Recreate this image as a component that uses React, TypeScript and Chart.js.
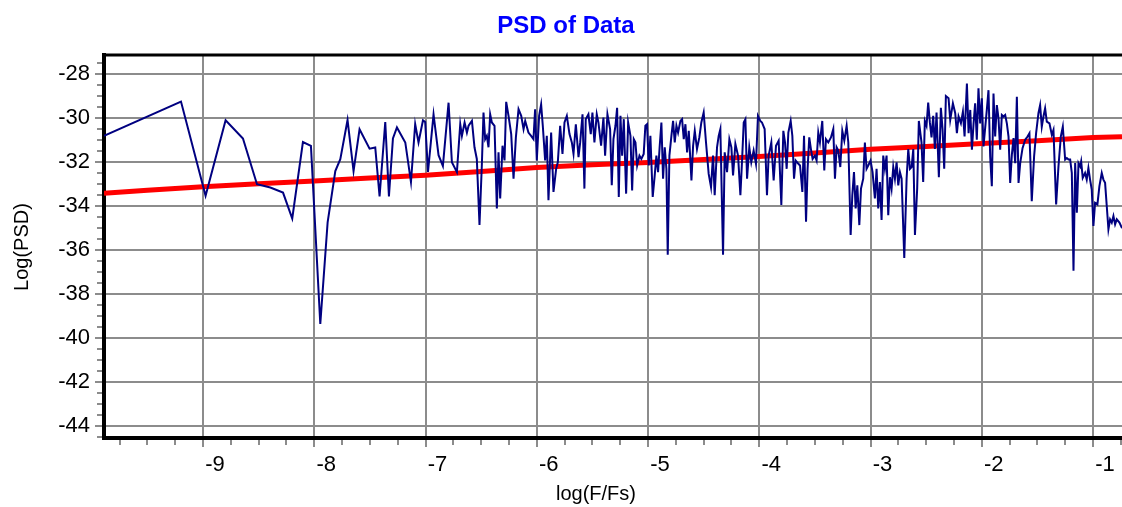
import React, { useEffect, useRef } from "react";
import { Chart, registerables } from "chart.js";

Chart.register(...registerables);

const FONT = '"Liberation Sans", Arial, Helvetica, sans-serif';
const GRID = "#8c8c8c";

const titleText = "PSD of Data";
const xAxisTitle = "log(F/Fs)";
const yAxisTitle = "Log(PSD)";

const xRange = [-9.89, -0.74];
const yRange = [-44.55, -27.12];
const xStep = 1;
const yStep = 2;

// PSD of data: [log(F/Fs), Log(PSD)]
const psdLow: Array<[number, number]> = [
  [-9.89, -30.8], [-9.198, -29.24], [-8.977, -33.53], [-8.797, -30.09], [-8.641, -30.92],
  [-8.515, -33.0], [-8.395, -33.15], [-8.281, -33.38], [-8.198, -34.56], [-8.102, -31.08],
  [-8.03, -31.26], [-7.946, -39.36], [-7.88, -34.74], [-7.811, -32.4], [-7.766, -31.86],
  [-7.701, -30.08], [-7.647, -32.4], [-7.593, -30.5], [-7.503, -31.38], [-7.452, -31.33],
  [-7.413, -33.56], [-7.362, -30.17], [-7.329, -33.56], [-7.293, -30.92], [-7.257, -30.42],
  [-7.182, -31.1], [-7.131, -32.9], [-7.093, -30.27], [-7.063, -31.1], [-7.023, -30.09],
  [-7.003, -30.17], [-6.978, -32.44], [-6.928, -29.82], [-6.883, -31.68], [-6.844, -32.17],
  [-6.793, -29.29],
];

const psdMidA: Array<[number, number]> = [
  [-6.763, -32.0], [-6.718, -32.45], [-6.688, -30.27], [-6.673, -30.8], [-6.649, -30.19],
  [-6.628, -30.65], [-6.613, -30.34], [-6.583, -30.12], [-6.56, -31.32], [-6.539, -31.85],
  [-6.515, -34.86], [-6.494, -32.15], [-6.479, -29.74], [-6.464, -30.95], [-6.449, -30.8],
  [-6.434, -31.32], [-6.419, -29.82], [-6.404, -30.19], [-6.38, -30.34], [-6.359, -34.1],
  [-6.344, -31.55], [-6.329, -33.65], [-6.308, -31.25], [-6.29, -31.92], [-6.275, -29.25],
  [-6.254, -29.89], [-6.23, -30.72], [-6.209, -32.75], [-6.188, -30.87], [-6.164, -29.59],
  [-6.14, -29.89], [-6.119, -30.49], [-6.104, -30.12], [-6.075, -30.65], [-6.051, -30.8],
  [-6.03, -30.95], [-6.015, -29.59], [-6.0, -31.92], [-5.979, -29.89], [-5.961, -29.37],
  [-5.946, -30.34], [-5.925, -31.92], [-5.91, -30.8], [-5.895, -33.73], [-5.871, -30.65],
  [-5.85, -33.35], [-5.826, -32.3], [-5.811, -32.0], [-5.79, -30.34], [-5.769, -31.62],
  [-5.751, -30.19], [-5.73, -29.89], [-5.706, -30.72], [-5.685, -31.1], [-5.67, -31.62],
  [-5.649, -30.27], [-5.625, -31.77], [-5.61, -31.1], [-5.589, -29.82], [-5.572, -33.2],
  [-5.56, -30.04], [-5.536, -29.82], [-5.515, -30.72], [-5.5, -29.74], [-5.482, -31.1],
  [-5.461, -29.82], [-5.446, -30.19], [-5.422, -31.25], [-5.401, -29.97], [-5.386, -31.7],
  [-5.365, -29.82], [-5.341, -30.49], [-5.326, -33.05], [-5.311, -30.95],
];

const psdMidB: Array<[number, number]> = [
  [-5.293, -30.34], [-5.278, -29.52], [-5.263, -33.58], [-5.248, -29.89], [-5.233, -31.7],
  [-5.218, -30.04], [-5.197, -33.43], [-5.179, -30.19], [-5.158, -30.8], [-5.143, -33.28],
  [-5.128, -30.95], [-5.113, -31.1], [-5.098, -32.15], [-5.077, -31.7], [-5.06, -31.85],
  [-5.039, -31.62], [-5.024, -30.34], [-5.009, -30.27], [-4.994, -32.15], [-4.979, -30.8],
  [-4.958, -33.58], [-4.94, -32.6], [-4.925, -31.7], [-4.91, -32.45], [-4.895, -31.25],
  [-4.88, -30.19], [-4.865, -32.75], [-4.85, -31.32], [-4.835, -32.3], [-4.823, -36.21],
  [-4.808, -31.7], [-4.79, -30.8], [-4.775, -30.12], [-4.76, -31.1], [-4.745, -30.34],
  [-4.73, -30.65], [-4.709, -30.12], [-4.694, -30.04], [-4.679, -30.95], [-4.664, -30.27],
  [-4.649, -31.55], [-4.634, -30.57], [-4.61, -32.83], [-4.595, -31.25], [-4.58, -30.57],
  [-4.56, -31.4], [-4.539, -30.87], [-4.521, -30.19], [-4.5, -29.74], [-4.479, -31.1],
  [-4.455, -32.53], [-4.434, -33.13], [-4.416, -31.7], [-4.401, -33.5], [-4.38, -31.32],
  [-4.365, -30.8], [-4.35, -30.49], [-4.326, -36.21], [-4.311, -31.55], [-4.29, -32.45],
  [-4.269, -30.95], [-4.251, -31.32], [-4.236, -32.6], [-4.215, -31.17], [-4.191, -31.7],
  [-4.17, -33.5], [-4.155, -31.92], [-4.14, -30.19], [-4.125, -30.04], [-4.11, -32.75],
  [-4.09, -31.32], [-4.072, -32.0], [-4.051, -31.47], [-4.03, -32.07], [-4.012, -29.89],
  [-3.991, -30.12], [-3.976, -30.19], [-3.952, -30.49], [-3.931, -33.5], [-3.916, -31.7],
  [-3.892, -31.1], [-3.871, -32.83], [-3.85, -31.25], [-3.826, -31.02], [-3.802, -33.95],
];

const psdHighA: Array<[number, number]> = [
  [-3.784, -30.57], [-3.769, -31.1], [-3.754, -32.3], [-3.739, -30.65], [-3.718, -30.12],
  [-3.703, -30.8], [-3.688, -32.75], [-3.673, -31.92], [-3.649, -32.07], [-3.634, -32.15],
  [-3.613, -33.35], [-3.598, -30.8], [-3.58, -34.71], [-3.566, -32.3], [-3.551, -30.87],
  [-3.536, -31.4], [-3.521, -31.85], [-3.5, -31.7], [-3.485, -31.92], [-3.47, -30.65],
  [-3.455, -31.1], [-3.434, -30.12], [-3.416, -32.37], [-3.401, -30.95], [-3.38, -31.1],
  [-3.356, -30.87], [-3.335, -30.49], [-3.32, -32.75], [-3.305, -31.32], [-3.29, -31.47],
  [-3.272, -32.22], [-3.254, -30.57], [-3.236, -31.02], [-3.215, -30.34], [-3.2, -31.1],
  [-3.179, -35.31], [-3.164, -33.5], [-3.149, -32.45], [-3.134, -34.1], [-3.119, -33.05],
  [-3.101, -34.86], [-3.086, -33.2], [-3.066, -32.75], [-3.051, -31.1], [-3.036, -32.3],
  [-3.021, -32.15], [-3.0, -31.92], [-2.982, -32.45], [-2.961, -33.65], [-2.946, -32.3],
  [-2.931, -34.1], [-2.916, -32.9], [-2.901, -34.63], [-2.886, -31.7], [-2.871, -32.3],
  [-2.856, -31.7], [-2.841, -34.41], [-2.826, -32.68], [-2.811, -33.2], [-2.796, -32.22],
  [-2.781, -32.75], [-2.766, -32.0], [-2.751, -33.05], [-2.736, -32.45], [-2.721, -32.75],
  [-2.697, -36.36], [-2.676, -32.75], [-2.661, -31.4], [-2.646, -32.3], [-2.631, -32.22],
  [-2.616, -31.4], [-2.601, -35.31], [-2.581, -33.2], [-2.566, -30.12], [-2.542, -31.1],
  [-2.527, -32.9], [-2.512, -30.12], [-2.497, -30.34], [-2.482, -29.29], [-2.467, -30.19],
  [-2.452, -30.87], [-2.437, -29.89], [-2.422, -31.4], [-2.407, -29.74], [-2.386, -32.68],
  [-2.368, -29.52], [-2.353, -30.49], [-2.338, -32.3], [-2.323, -28.99],
];

const psdHighB: Array<[number, number]> = [
  [-2.299, -29.09], [-2.284, -30.08], [-2.26, -29.32], [-2.239, -29.77], [-2.224, -30.68],
  [-2.209, -29.92], [-2.188, -30.23], [-2.17, -29.7], [-2.155, -30.83], [-2.134, -28.42],
  [-2.119, -30.68], [-2.104, -29.62], [-2.089, -31.43], [-2.074, -30.23], [-2.06, -29.32],
  [-2.045, -30.98], [-2.03, -28.64], [-2.015, -30.23], [-2.0, -29.09], [-1.985, -31.28],
  [-1.97, -30.45], [-1.955, -29.62], [-1.94, -28.72], [-1.925, -31.73], [-1.91, -33.09],
  [-1.895, -28.87], [-1.88, -30.83], [-1.865, -29.4], [-1.85, -30.0], [-1.835, -31.43],
  [-1.82, -29.85], [-1.805, -29.92], [-1.79, -29.85], [-1.775, -30.23], [-1.76, -30.83],
  [-1.745, -32.94], [-1.73, -31.66], [-1.715, -30.9], [-1.7, -32.04], [-1.685, -29.02],
  [-1.67, -32.94], [-1.655, -32.04], [-1.634, -31.36], [-1.61, -30.98], [-1.589, -30.83],
  [-1.572, -30.68], [-1.551, -33.77], [-1.53, -31.73], [-1.512, -30.68], [-1.491, -29.77],
  [-1.476, -29.4], [-1.461, -30.38], [-1.446, -29.92], [-1.431, -29.55], [-1.416, -30.15],
  [-1.392, -30.23], [-1.371, -30.75], [-1.356, -30.53], [-1.332, -33.92], [-1.311, -32.19],
  [-1.29, -30.83], [-1.272, -30.38], [-1.251, -31.88], [-1.236, -31.81], [-1.221, -31.88],
  [-1.206, -31.88], [-1.191, -32.49], [-1.176, -36.94], [-1.161, -32.04], [-1.146, -34.3],
  [-1.131, -32.04], [-1.116, -32.19], [-1.107, -31.96], [-1.093, -32.71], [-1.072, -32.49],
  [-1.057, -32.79], [-1.042, -32.26], [-1.027, -32.79], [-1.012, -33.24], [-0.997, -34.9],
  [-0.982, -33.85], [-0.961, -33.92], [-0.943, -33.09], [-0.922, -32.49], [-0.907, -32.79],
  [-0.892, -32.94], [-0.877, -33.99], [-0.862, -35.05], [-0.847, -34.6], [-0.832, -34.75],
  [-0.817, -34.45], [-0.802, -34.83], [-0.787, -34.6], [-0.763, -34.75], [-0.74, -35.0],
];

// Fitted trend line (red)
const trendLine: Array<[number, number]> = [
  [-9.89, -33.41], [-9.5, -33.28], [-9.0, -33.12], [-8.5, -32.98], [-8.0, -32.85],
  [-7.5, -32.72], [-7.0, -32.59], [-6.5, -32.42], [-6.0, -32.24], [-5.5, -32.12],
  [-5.0, -32.01], [-4.5, -31.88], [-4.0, -31.74], [-3.5, -31.58], [-3.0, -31.41],
  [-2.5, -31.28], [-2.0, -31.15], [-1.5, -31.02], [-1.0, -30.88], [-0.74, -30.84],
];

const toXY = (pts: Array<[number, number]>) => pts.map(([x, y]) => ({ x, y }));

const decorPlugin = {
  id: "decor",
  afterDraw(chart: any) {
    const { ctx, chartArea: a, scales } = chart;
    const xs = scales.x;
    const ys = scales.y;
    ctx.save();
    // minor ticks
    ctx.strokeStyle = GRID;
    ctx.lineWidth = 2;
    for (let k = Math.ceil(xs.min * 4); k <= Math.floor(xs.max * 4); k++) {
      if (k % 4 === 0) continue;
      const px = Math.round(xs.getPixelForValue(k / 4));
      ctx.beginPath();
      ctx.moveTo(px, a.bottom + 2);
      ctx.lineTo(px, a.bottom + 7);
      ctx.stroke();
    }
    for (let k = Math.ceil(ys.min * 2); k <= Math.floor(ys.max * 2); k++) {
      if (k % 4 === 0) continue;
      const py = Math.round(ys.getPixelForValue(k / 2));
      ctx.beginPath();
      ctx.moveTo(a.left - 7, py);
      ctx.lineTo(a.left - 2, py);
      ctx.stroke();
    }
    // top frame line
    ctx.strokeStyle = "#000";
    ctx.lineWidth = 3;
    ctx.beginPath();
    ctx.moveTo(a.left - 2, a.top);
    ctx.lineTo(a.right, a.top);
    ctx.stroke();
    // axis titles
    ctx.fillStyle = "#000";
    ctx.font = `20px ${FONT}`;
    ctx.textAlign = "center";
    ctx.textBaseline = "alphabetic";
    ctx.fillText(xAxisTitle, 596, 500);
    ctx.translate(22, 247);
    ctx.rotate(-Math.PI / 2);
    ctx.textBaseline = "middle";
    ctx.fillText(yAxisTitle, 0, 0);
    ctx.restore();
  },
};

export default function App() {
  const ref = useRef<HTMLCanvasElement | null>(null);
  useEffect(() => {
    if (!ref.current) return;
    const tickFont = { family: FONT, size: 22 };
    const chart = new Chart(ref.current, {
      type: "line",
      data: {
        datasets: [
          {
            label: "PSD",
            data: toXY([...psdLow, ...psdMidA, ...psdMidB, ...psdHighA, ...psdHighB]),
            borderColor: "#000080",
            borderWidth: 2,
            pointRadius: 0,
            tension: 0,
            fill: false,
          },
          {
            label: "Trend",
            data: toXY(trendLine),
            borderColor: "#ff0000",
            borderWidth: 5,
            pointRadius: 0,
            tension: 0,
            fill: false,
          },
        ],
      },
      options: {
        animation: false,
        responsive: false,
        devicePixelRatio: 1,
        events: [],
        layout: { padding: { left: 10, right: 0, top: 0, bottom: 0 } },
        plugins: {
          legend: { display: false },
          tooltip: { enabled: false },
          title: {
            display: true,
            text: titleText,
            color: "#0000ff",
            font: { family: FONT, size: 24, weight: "bold", lineHeight: 1.2 },
            padding: { top: 12.3, bottom: 13.9 },
          },
        },
        scales: {
          x: {
            type: "linear",
            min: xRange[0],
            max: xRange[1],
            afterFit: (s: any) => {
              s.height = 69;
            },
            ticks: {
              stepSize: xStep,
              includeBounds: false,
              autoSkip: false,
              maxRotation: 0,
              minRotation: 0,
              labelOffset: 12,
              padding: 5,
              color: "#000",
              font: tickFont,
            },
            grid: { color: GRID, lineWidth: 2, tickLength: 9, tickColor: GRID, tickWidth: 2 },
            border: { color: "#000", width: 4 },
          },
          y: {
            type: "linear",
            min: yRange[0],
            max: yRange[1],
            afterFit: (s: any) => {
              s.width = 94;
            },
            ticks: {
              stepSize: yStep,
              includeBounds: false,
              autoSkip: false,
              padding: 5,
              color: "#000",
              font: tickFont,
            },
            grid: { color: GRID, lineWidth: 2, tickLength: 9, tickColor: GRID, tickWidth: 2 },
            border: { color: "#000", width: 4 },
          },
        },
      },
      plugins: [decorPlugin],
    } as any);
    return () => chart.destroy();
  }, []);
  return (
    <div style={{ position: "fixed", left: 0, top: 0, width: 1122, height: 507 }}>
      <canvas ref={ref} width={1122} height={507} style={{ display: "block", width: 1122, height: 507 }} />
    </div>
  );
}
